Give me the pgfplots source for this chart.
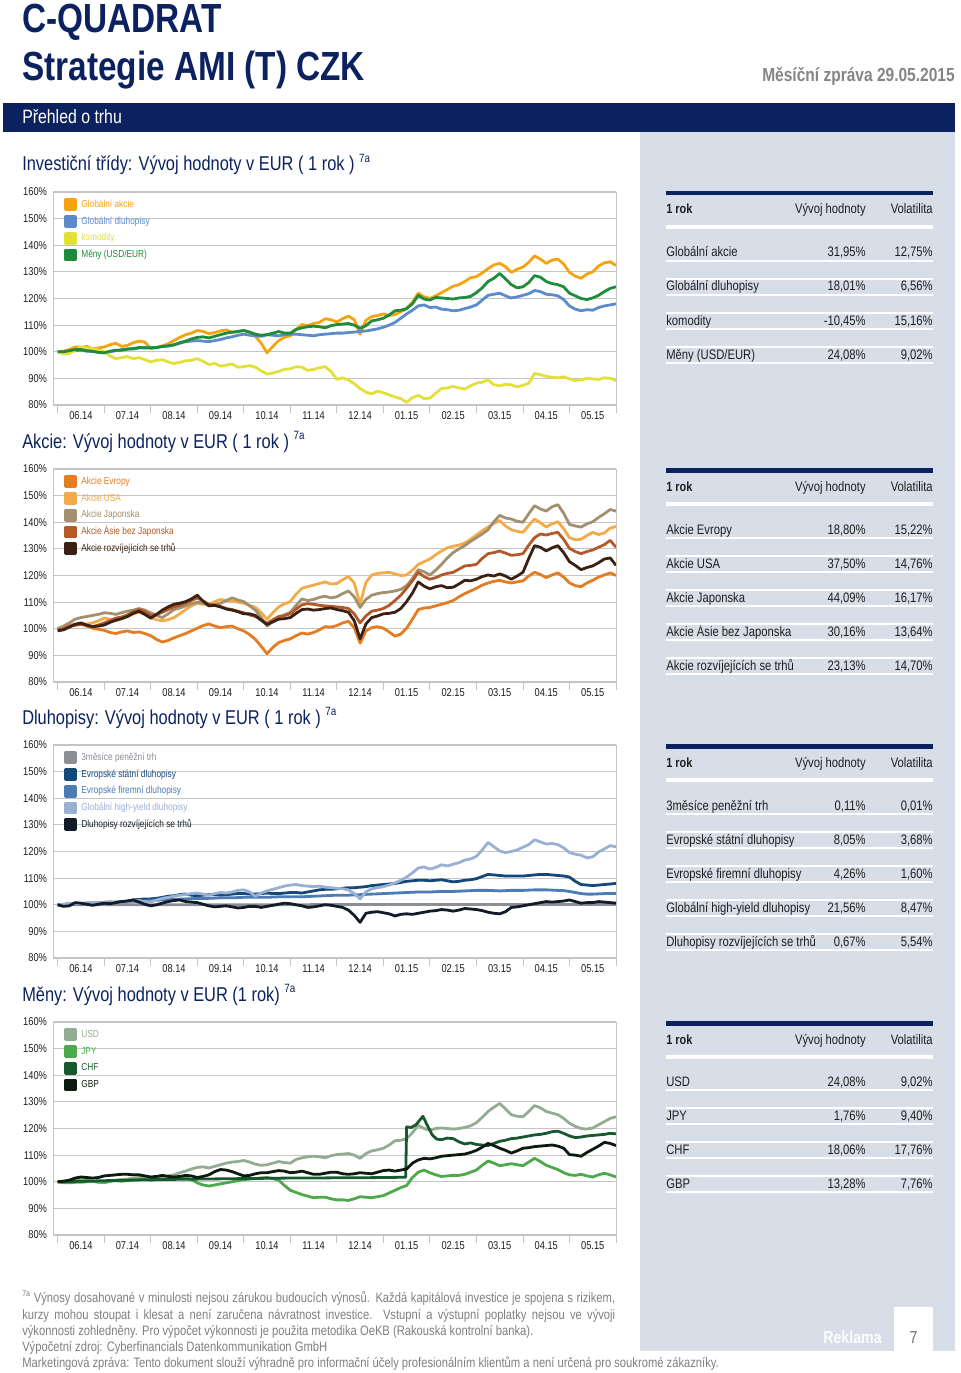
\documentclass[border=0pt]{standalone}
\usepackage{fontspec}
\setmainfont{Liberation Sans}[FakeStretch=0.82]
\usepackage{pgfplots}
\pgfplotsset{compat=1.18}
\usepackage{pgfplotstable}

\definecolor{navy}{HTML}{0C2260}
\definecolor{panel}{HTML}{D8DEE8}
\definecolor{gridc}{HTML}{C4C4C4}
\definecolor{txt}{HTML}{1E1E1E}
% investicni tridy
\definecolor{cGA}{HTML}{F5A30F}
\definecolor{cGD}{HTML}{5B8BCB}
\definecolor{cKO}{HTML}{E4E03A}
\definecolor{cME}{HTML}{1E8C3A}
% akcie
\definecolor{cEV}{HTML}{E47C22}
\definecolor{cUS}{HTML}{F3AA48}
\definecolor{cJA}{HTML}{A3906F}
\definecolor{cAS}{HTML}{B4592A}
\definecolor{cRT}{HTML}{3A2112}
% dluhopisy
\definecolor{cMM}{HTML}{8C8E96}
\definecolor{cES}{HTML}{134878}
\definecolor{cEF}{HTML}{4D7BB5}
\definecolor{cHY}{HTML}{9AB0D2}
\definecolor{cDR}{HTML}{121C28}
% meny
\definecolor{cUSD}{HTML}{93AD92}
\definecolor{cJPY}{HTML}{4DAA4A}
\definecolor{cCHF}{HTML}{17592F}
\definecolor{cGBP}{HTML}{0D1A10}

\newcommand\fs[2]{\fontsize{#1}{#2}\selectfont}

\pgfplotsset{
  qax/.style={
    anchor=south west, scale only axis, width=422.25pt, height=159.75pt,
    xmin=-0.1, xmax=12, ymin=80, ymax=160,
    axis line style={draw=gridc, line width=0.6pt},
    ytick={80,90,...,160},
    yticklabels={80\%,90\%,100\%,110\%,120\%,130\%,140\%,150\%,160\%},
    ymajorgrids, grid style={draw=gridc, line width=0.8pt},
    xtick={0,...,12},
    xticklabels={06.14,07.14,08.14,09.14,10.14,11.14,12.14,01.15,02.15,03.15,04.15,05.15},
    x tick label as interval,
    xtick pos=left, tick align=outside, major tick length=6pt,
    xtick style={draw=gridc, line width=0.6pt},
    ytick style={draw=none},
    tick label style={font=\fs{8.5}{10}, text=txt},
    yticklabel style={xshift=5pt},
    xticklabel style={yshift=4.5pt},
    /pgf/number format/assume math mode=true,
    legend cell align=left,
    legend style={at={(0,1)}, anchor=north west, xshift=8.25pt, yshift=-4.5pt,
      draw=none, fill=none, inner sep=0pt, row sep=3pt, column sep=3.2pt,
      font=\fs{7.6}{9}, nodes={inner sep=0pt, text height=6.5pt, text depth=2.5pt}},
    legend image code/.code={\fill (0pt,-3.75pt) rectangle (7.5pt,3.75pt);},
    every axis plot/.append style={line width=2.1pt, line join=round},
  }
}

\pgfplotstableread{
x      ga     gd     kom    men
0      100    100    100    100
0.125  100.2  99.8   99.2   100.0
0.25   100.8  100.2  99.4   100.4
0.375  101.8  100.4  100.6  100.8
0.5    101.6  100.6  101.8  100.8
0.625  102.0  100.2  101.4  100.4
0.75   101.0  100.1  101.2  100.2
0.875  101.4  99.8   100.6  99.8
1.0    101.8  99.6   100.1  99.6
1.125  102.6  100.0  98.4   100.2
1.25   103.2  100.4  97.4   100.6
1.375  102.0  100.8  97.8   100.6
1.5    102.4  101.0  98.2   101.0
1.625  103.4  101.0  97.4   101.2
1.75   104.0  101.4  97.8   101.6
1.875  103.6  101.6  97.0   101.4
2.0    101.2  101.6  96.2   101.4
2.125  101.6  101.6  96.8   101.6
2.25   102.2  102.0  97.0   102.0
2.375  103.0  102.2  96.2   102.2
2.5    104.2  102.6  95.6   102.6
2.625  105.4  103.2  96.0   103.4
2.75   106.4  103.8  96.6   104.0
2.875  107.0  104.0  96.8   104.8
3.0    108.0  104.2  97.4   105.4
3.125  107.6  104.0  96.4   105.6
3.25   106.8  103.8  95.2   105.2
3.375  107.2  104.2  95.6   105.8
3.5    107.8  104.6  94.6   106.4
3.625  108.2  105.2  95.0   107.0
3.75   107.2  105.6  95.4   107.4
3.875  107.6  106.2  94.2   107.6
4.0    108.0  106.6  94.4   108.0
4.125  107.2  106.2  94.8   107.4
4.25   105.8  106.0  94.2   106.6
4.375  103.2  105.8  92.8   106.2
4.5    99.6   106.4  91.6   106.4
4.625  102.0  106.2  92.0   107.0
4.75   104.2  106.0  92.6   107.6
4.875  105.4  106.4  93.4   107.0
5.0    106.0  106.6  93.6   107.0
5.125  108.4  106.6  94.4   108.4
5.25   110.2  106.4  94.2   109.0
5.375  109.8  106.2  93.0   109.4
5.5    110.6  106.0  93.4   109.6
5.625  111.0  106.4  94.0   109.4
5.75   112.4  106.6  94.4   109.0
5.875  112.0  106.8  92.6   109.8
6.0    111.2  107.0  89.6   110.2
6.125  112.4  107.0  90.2   110.4
6.25   113.4  107.2  89.4   110.6
6.375  112.0  107.4  88.0   110.0
6.5    106.6  107.6  86.2   108.8
6.625  111.8  107.8  84.8   109.8
6.75   113.2  108.2  84.2   111.6
6.875  113.6  108.6  85.2   112.0
7.0    114.2  109.2  84.6   112.6
7.125  113.6  110.0  83.8   113.8
7.25   114.0  111.0  83.0   115.4
7.375  115.0  112.6  82.4   115.6
7.5    116.2  114.2  81.0   116.2
7.625  118.6  115.6  82.8   118.0
7.75   122.0  117.2  83.6   121.2
7.875  120.6  117.6  82.4   119.8
8.0    120.0  116.6  82.6   119.4
8.125  121.0  116.8  84.4   120.4
8.25   122.2  116.0  86.2   120.2
8.375  123.4  115.8  86.4   120.0
8.5    124.6  115.4  87.0   119.8
8.625  125.2  115.6  86.4   120.2
8.75   126.4  116.2  86.0   120.4
8.875  127.8  116.8  87.2   120.8
9.0    128.2  117.6  88.2   122.2
9.125  129.6  119.4  88.6   124.0
9.25   131.2  121.2  89.4   126.4
9.375  132.6  121.6  87.6   127.6
9.5    133.2  122.0  87.2   129.4
9.625  132.0  121.0  87.8   127.4
9.75   129.8  120.2  87.6   125.2
9.875  131.0  120.6  86.8   124.0
10.0   131.8  121.2  87.4   124.4
10.125 133.6  121.8  88.2   126.0
10.25  136.0  123.0  91.8   128.6
10.375 134.8  122.6  91.4   128.0
10.5   133.2  121.6  90.8   126.4
10.625 134.4  121.4  90.4   125.6
10.75  134.8  121.0  90.2   125.2
10.875 133.0  119.6  90.6   124.4
11.0   129.8  117.2  89.8   122.0
11.125 128.4  116.0  89.2   121.0
11.25  127.6  115.4  89.4   120.0
11.375 129.2  115.8  90.0   119.6
11.5   130.0  115.6  89.8   120.2
11.625 132.2  116.6  89.6   121.2
11.75  133.4  117.2  90.2   122.6
11.875 133.8  117.6  90.0   123.8
12.0   132.4  118.0  89.2   124.4
}\tA

\pgfplotstableread{
x      ev     usa    jap    asie   rozv
0      99.5   100    100    99.5   99.2
0.125  100.2  100.4  101.0  100.0  99.6
0.25   101.2  101    102.2  101    100.6
0.375  101.8  101.4  103.6  101.4  101.6
0.5    102.0  101.6  104.2  101.6  102.2
0.625  101.0  101.8  104.6  101.2  101.4
0.75   100.2  102.2  105.0  100.8  100.8
0.875  99.8   103.0  105.4  101.4  101.0
1.0    99.4   104.0  106.0  102.2  101.4
1.125  98.6   103.6  105.8  103.0  102.4
1.25   98.2   103.0  105.4  104.0  103.2
1.375  98.8   103.8  106.0  104.4  103.8
1.5    99.2   104.6  106.6  105.2  104.6
1.625  98.6   105.6  107.0  106.4  105.8
1.75   98.8   106.2  107.6  107.2  106.6
1.875  98.2   105.4  107.0  106.4  105.4
2.0    97.4   104.2  106.0  105.0  104.0
2.125  96.0   103.4  105.0  105.4  105.4
2.25   95.0   103.0  104.2  106.2  107.0
2.375  95.6   103.4  105.6  107.2  108.2
2.5    96.6   104.2  107.2  108.2  109.2
2.625  97.4   105.6  107.8  108.8  109.6
2.75   98.2   107.2  108.6  109.6  110.2
2.875  99.2   108.6  109.4  110.6  111.2
3.0    100.2  109.6  110.0  111.6  112.6
3.125  101.2  109.2  109.6  110.4  110.4
3.25   101.8  109.0  109.2  109.2  108.6
3.375  101.0  110.2  109.0  108.8  108.8
3.5    100.4  111.0  109.6  108.4  108.2
3.625  100.8  110.6  110.6  107.6  107.4
3.75   101.0  110.4  111.6  107.2  107.0
3.875  100.0  110.0  110.8  106.6  106.4
4.0    99.2   109.6  110.2  106.0  105.6
4.125  97.8   108.8  108.6  105.2  105.6
4.25   96.0   108.0  107.0  104.6  105.0
4.375  93.4   106.0  104.2  103.4  103.2
4.5    90.6   103.6  101.0  102.0  101.6
4.625  93.0   106.0  102.8  103.4  102.6
4.75   94.8   108.2  104.2  104.6  103.6
4.875  95.6   109.4  105.2  105.0  103.8
5.0    96.2   110.2  106.2  105.6  104.2
5.125  97.4   113.0  108.8  107.4  105.8
5.25   98.4   115.2  111.2  109.0  107.2
5.375  98.0   115.8  110.6  109.4  107.4
5.5    98.6   116.4  111.0  109.2  107.0
5.625  99.6   117.0  111.8  108.8  107.2
5.75   100.8  117.6  112.2  108.6  107.6
5.875  100.6  116.8  111.6  108.4  107.8
6.0    101.2  117.0  112.0  108.2  107.2
6.125  102.2  118.4  113.2  108.0  106.8
6.25   102.8  119.6  114.2  107.6  106.2
6.375  100.4  117.2  112.0  105.6  103.0
6.5    94.6   109.2  108.0  102.2  96.2
6.625  99.2   117.4  111.0  104.8  101.8
6.75   100.4  120.2  112.6  106.6  104.2
6.875  100.8  120.8  113.2  107.0  104.8
7.0    100.2  121.0  113.6  107.6  105.6
7.125  98.8   121.2  113.8  108.8  105.8
7.25   97.2   120.6  114.2  110.6  106.2
7.375  98.0   120.0  114.8  112.6  107.6
7.5    100.2  120.2  116.2  115.2  110.2
7.625  103.6  122.0  118.8  118.0  113.4
7.75   107.2  124.2  122.2  121.2  117.6
7.875  107.8  125.2  121.4  119.6  116.0
8.0    108.0  126.2  120.2  118.6  115.0
8.125  108.6  127.8  122.0  119.2  115.8
8.25   109.2  129.2  124.2  120.2  116.2
8.375  109.8  130.4  126.6  120.8  115.4
8.5    110.6  131.0  128.6  121.2  115.6
8.625  112.0  131.4  130.0  122.4  116.8
8.75   113.2  132.2  131.2  123.6  118.2
8.875  114.2  133.6  132.8  123.8  118.0
9.0    115.2  135.2  134.2  124.2  118.6
9.125  116.4  136.8  135.6  126.4  119.6
9.25   117.2  138.2  137.2  128.2  120.2
9.375  117.8  139.6  140.2  128.6  119.8
9.5    118.2  140.6  142.6  129.2  120.6
9.625  117.6  138.6  141.6  128.4  119.8
9.75   117.2  137.2  141.2  127.6  118.6
9.875  117.6  136.6  140.4  127.8  119.8
10.0   118.0  136.2  140.0  128.2  121.2
10.125 119.8  138.8  143.2  131.4  126.4
10.25  121.2  141.2  146.2  134.2  131.2
10.375 120.4  139.8  145.0  135.6  130.6
10.5   119.2  138.2  144.2  135.2  129.2
10.625 120.2  139.4  145.8  135.8  130.4
10.75  121.0  140.2  146.6  136.2  131.2
10.875 119.4  137.6  143.4  133.6  128.6
11.0   117.2  134.2  139.2  130.2  125.2
11.125 116.2  133.4  138.6  129.0  123.8
11.25  115.8  133.6  138.2  128.2  122.2
11.375 117.2  135.0  139.4  129.0  123.0
11.5   118.2  136.2  140.2  129.6  123.6
11.625 119.4  135.4  141.8  130.6  124.8
11.75  120.2  136.0  143.2  131.6  126.2
11.875 121.0  137.8  144.8  133.2  126.6
12.0   120.0  138.4  144.2  130.6  123.8
}\tB

\pgfplotstableread{
x      mm     est    efir   hy     rozv
0      100    100    100    100    100
0.125  100    100.1  100.0  100.2  99.4
0.25   100    100.2  100.1  100.6  99.6
0.375  100    100.3  100.2  100.2  100.8
0.5    100    100.4  100.2  100.4  100.6
0.625  100    100.5  100.3  100.8  100.2
0.75   100    100.6  100.4  100.8  99.8
0.875  100    100.7  100.5  100.6  100.2
1.0    100    100.8  100.6  101.0  100.6
1.125  100    100.9  100.7  101.2  100.4
1.25   100    101.0  100.8  100.8  100.8
1.375  100    101.2  100.9  101.0  101.2
1.5    100    101.4  101.0  101.2  101.4
1.625  100    101.8  101.1  101.4  101.8
1.75   100    102.0  101.2  101.6  101.0
1.875  100    102.2  101.4  101.2  100.2
2.0    100    102.2  101.6  101.0  99.6
2.125  100    102.4  101.7  101.8  100.0
2.25   100    102.8  101.8  102.4  100.6
2.375  100    103.2  101.9  102.8  101.2
2.5    100    103.4  102.0  103.2  101.6
2.625  100    103.8  102.1  103.6  101.8
2.75   100    104.0  102.2  103.8  101.2
2.875  100    103.6  102.3  104.2  101.0
3.0    100    103.4  102.4  104.4  100.8
3.125  100    103.6  102.4  104.0  100.2
3.25   100    103.8  102.4  103.6  99.6
3.375  100    103.8  102.5  104.2  99.2
3.5    100    103.6  102.6  104.6  99.4
3.625  100    103.8  102.6  104.4  99.6
3.75   100    104.0  102.6  104.8  99.2
3.875  100    104.2  102.7  105.4  98.8
4.0    100    104.2  102.8  105.6  99.0
4.125  100    104.0  102.8  104.8  99.4
4.25   100    104.0  102.8  103.2  99.4
4.375  100    104.2  102.8  104.4  99.0
4.5    100    104.4  102.8  105.2  99.4
4.625  100    104.2  102.9  105.8  99.8
4.75   100    104.2  103.0  106.4  100.2
4.875  100    104.4  103.0  107.0  100.6
5.0    100    104.6  103.0  107.4  100.4
5.125  100    104.6  103.0  107.6  100.0
5.25   100    104.4  103.0  107.2  99.6
5.375  100    104.8  103.1  107.0  99.0
5.5    100.1  105.2  103.2  106.8  99.2
5.625  100.1  105.6  103.3  107.0  99.6
5.75   100.1  105.8  103.4  106.6  100.0
5.875  100.1  105.8  103.5  106.4  99.8
6.0    100.1  106.0  103.6  106.2  99.4
6.125  100.1  106.2  103.6  106.0  99.0
6.25   100.1  106.4  103.6  105.6  98.0
6.375  100.1  106.4  103.7  104.2  96.0
6.5    100.1  106.6  103.8  102.2  93.4
6.625  100.1  106.8  103.9  104.8  96.8
6.75   100.1  107.2  104.0  106.0  97.2
6.875  100.1  107.4  104.1  106.4  97.4
7.0    100.1  107.6  104.2  106.8  97.0
7.125  100.1  107.8  104.3  107.4  96.6
7.25   100.1  108.0  104.4  108.2  95.8
7.375  100.1  108.4  104.5  109.2  96.4
7.5    100.1  108.8  104.6  110.4  96.6
7.625  100.1  109.0  104.7  112.0  96.4
7.75   100.1  109.2  104.8  113.8  96.8
7.875  100.1  109.2  104.8  114.2  97.2
8.0    100.1  109.0  104.8  113.4  97.6
8.125  100.1  109.2  104.9  114.0  97.8
8.25   100.1  109.4  105.0  115.0  98.2
8.375  100.1  109.0  105.0  114.6  98.0
8.5    100.1  108.6  105.0  115.2  97.6
8.625  100.1  108.8  105.1  115.8  98.0
8.75   100.1  109.2  105.2  116.8  98.6
8.875  100.1  109.4  105.3  117.2  98.4
9.0    100.1  109.8  105.4  118.2  98.2
9.125  100.1  110.6  105.4  120.6  97.8
9.25   100.1  111.4  105.4  123.4  97.2
9.375  100.1  111.2  105.3  121.8  96.8
9.5    100.1  111.0  105.2  120.2  96.6
9.625  100.1  110.8  105.3  119.6  97.4
9.75   100.1  110.8  105.4  120.0  99.0
9.875  100.1  110.8  105.4  120.6  99.2
10.0   100.1  110.8  105.4  121.6  99.6
10.125 100.1  111.0  105.5  122.6  100.0
10.25  100.1  111.2  105.6  124.4  100.4
10.375 100.1  111.4  105.6  123.6  100.8
10.5   100.1  111.4  105.6  122.8  101.2
10.625 100.1  111.2  105.5  123.0  101.0
10.75  100.1  111.0  105.4  122.6  101.2
10.875 100.1  110.8  105.3  121.4  101.4
11.0   100.1  110.4  105.0  119.6  101.8
11.125 100.1  108.8  104.6  119.0  101.2
11.25  100.1  107.6  104.2  118.6  100.6
11.375 100.1  107.4  104.0  117.6  100.8
11.5   100.1  107.2  104.0  118.0  100.8
11.625 100.1  107.4  104.1  119.8  101.2
11.75  100.1  107.6  104.2  121.0  101.0
11.875 100.1  107.8  104.2  122.2  100.8
12.0   100.1  108.0  104.2  121.8  100.6
}\tC

\pgfplotstableread{
x      usd    jpy    gbp
0      100    100    100
0.125  100.2  99.6   100.2
0.25   100.4  99.6   100.6
0.375  100.8  99.8   101.4
0.5    100.8  99.8   101.8
0.625  100.6  100.0  101.6
0.75   100.2  100.2  101.4
0.875  100.0  99.8   101.6
1.0    99.6   99.8   102.2
1.125  100.2  100.2  102.4
1.25   100.6  100.4  102.6
1.375  100.8  100.2  102.8
1.5    101.0  100.4  102.8
1.625  101.4  100.6  102.6
1.75   101.6  100.8  102.6
1.875  101.6  100.8  102.2
2.0    101.4  100.6  101.8
2.125  101.6  100.8  102.0
2.25   102.0  101.0  102.4
2.375  102.2  101.0  102.0
2.5    102.6  101.2  101.8
2.625  103.4  101.4  102.0
2.75   104.0  101.6  102.4
2.875  104.8  100.8  102.2
3.0    105.4  99.6   101.6
3.125  105.6  98.8   102.0
3.25   105.2  98.4   102.6
3.375  105.8  98.8   103.8
3.5    106.4  99.2   104.6
3.625  107.0  99.6   104.4
3.75   107.4  100.0  103.8
3.875  107.6  100.4  103.0
4.0    108.0  100.8  102.2
4.125  107.4  101.0  102.4
4.25   106.6  101.2  103.0
4.375  106.2  101.4  103.4
4.5    106.4  101.6  103.4
4.625  107.0  101.2  103.8
4.75   107.6  100.6  104.2
4.875  107.2  98.6   104.0
5.0    107.0  96.8   103.4
5.125  108.4  96.0   103.6
5.25   109.0  95.2   104.0
5.375  109.4  94.6   103.4
5.5    109.6  94.0   102.8
5.625  109.4  94.2   102.8
5.75   109.0  94.2   103.2
5.875  109.8  93.6   103.6
6.0    110.2  93.2   103.6
6.125  110.4  93.2   103.0
6.25   110.6  93.0   102.8
6.375  110.0  93.6   103.0
6.5    108.8  94.4   103.4
6.625  110.6  94.2   103.2
6.75   111.6  94.0   103.0
6.875  112.0  94.4   103.6
7.0    112.6  94.8   104.2
7.125  113.8  95.8   104.4
7.25   115.4  96.8   104.0
7.375  115.6  97.8   104.4
7.5    116.2  98.6   104.8
7.625  118.4  101.6  107.0
7.75   121.2  103.6  108.2
7.875  120.0  104.4  108.8
8.0    119.4  103.4  108.6
8.125  120.0  102.6  109.0
8.25   120.2  102.0  109.6
8.375  120.0  102.2  109.8
8.5    119.8  102.4  110.0
8.625  120.0  102.4  110.2
8.75   120.4  102.8  110.4
8.875  121.0  103.6  111.0
9.0    122.2  104.4  111.8
9.125  124.2  106.2  113.0
9.25   126.4  107.8  114.4
9.375  128.0  107.0  113.6
9.5    129.4  106.0  112.6
9.625  127.4  106.4  111.8
9.75   125.2  106.8  110.8
9.875  124.6  106.4  111.6
10.0   124.4  106.0  112.6
10.125 126.4  107.4  112.8
10.25  128.6  108.8  113.2
10.375 127.8  107.6  113.4
10.5   126.4  106.2  113.6
10.625 125.8  105.4  113.8
10.75  125.2  104.6  113.4
10.875 123.8  103.4  112.6
11.0   122.0  102.6  110.2
11.125 120.8  102.4  110.0
11.25  120.0  102.8  109.6
11.375 119.8  102.2  111.0
11.5   120.2  101.8  112.2
11.625 121.4  102.6  113.4
11.75  122.6  103.2  114.8
11.875 123.8  102.6  114.4
12.0   124.4  101.8  113.6
}\tD

% tabulka vpravo: #1 horni okraj (px)
\newcommand\thead[1]{%
  \fill[navy] (666,#1) rectangle (933,#1+4.5);
  \node[anchor=base west,font=\bfseries] at (666,#1+23) {1 rok};
  \node[anchor=base east] at (866,#1+23) {Vývoj hodnoty};
  \node[anchor=base east] at (933,#1+23) {Volatilita};
  \fill[white] (666,#1+34) rectangle (933,#1+38);
}
% radek: #1 uaklad (px), #2 nazev, #3 vyvoj, #4 volatilita, #5 linka nahore (1/0)
\newcommand\trow[5]{%
  \node[anchor=base west] at (666,#1) {#2};
  \node[anchor=base east] at (866,#1) {#3};
  \node[anchor=base east] at (933,#1) {#4};
  \fill[white] (666,#1+3) rectangle (933,#1+5);
  \ifnum#5=1 \fill[white] (666,#1-13) rectangle (933,#1-11);\fi
}
\newcommand\supa{\raisebox{0.85ex}{\fs{9}{10}7a}}

\begin{document}
\begin{tikzpicture}
\begin{scope}[x=0.75pt,y=-0.75pt,every node/.style={inner sep=0pt}]
  \path[use as bounding box, fill=white] (0,0) rectangle (960,1373);
  \fill[panel] (640,132) rectangle (955,1351);
  \fill[navy] (3,103) rectangle (955,132);
  \node[anchor=base west, text=navy, font=\fs{30.5}{34}\bfseries] at (22,33) {C-QUADRAT};
  \node[anchor=base west, text=navy, font=\fs{30.5}{34}\bfseries] at (22,81) {Strategie AMI (T) CZK};
  \node[anchor=base east, text=black!48, font=\fs{14.2}{16}\bfseries] at (955,82) {Měsíční zpráva 29.05.2015};
  \node[anchor=base west, text=white, font=\fs{14.5}{16}] at (22,124) {Přehled o trhu};
  \begin{scope}[every node/.append style={text=navy, font=\fs{15}{18}}]
    \node[anchor=base west] at (22,171) {Investiční třídy: Vývoj hodnoty v EUR ( 1 rok ) \supa};
    \node[anchor=base west] at (22,448) {Akcie: Vývoj hodnoty v EUR ( 1 rok ) \supa};
    \node[anchor=base west] at (22,724) {Dluhopisy: Vývoj hodnoty v EUR ( 1 rok ) \supa};
    \node[anchor=base west] at (22,1001) {Měny: Vývoj hodnoty v EUR (1 rok) \supa};
  \end{scope}
  \begin{scope}[every node/.append style={text=txt, font=\fs{10.3}{12}}]
    \thead{191}
    \trow{257}{Globální akcie}{31,95\%}{12,75\%}{0}
    \trow{291}{Globální dluhopisy}{18,01\%}{6,56\%}{1}
    \trow{325}{komodity}{-10,45\%}{15,16\%}{1}
    \trow{359}{Měny (USD/EUR)}{24,08\%}{9,02\%}{1}
    \thead{468}
    \trow{534}{Akcie Evropy}{18,80\%}{15,22\%}{0}
    \trow{568}{Akcie USA}{37,50\%}{14,76\%}{1}
    \trow{602}{Akcie Japonska}{44,09\%}{16,17\%}{1}
    \trow{636}{Akcie Ásie bez Japonska}{30,16\%}{13,64\%}{1}
    \trow{670}{Akcie rozvíjejících se trhů}{23,13\%}{14,70\%}{1}
    \thead{744}
    \trow{810}{3měsíce peněžní trh}{0,11\%}{0,01\%}{0}
    \trow{844}{Evropské státní dluhopisy}{8,05\%}{3,68\%}{1}
    \trow{878}{Evropské firemní dluhopisy}{4,26\%}{1,60\%}{1}
    \trow{912}{Globální high-yield dluhopisy}{21,56\%}{8,47\%}{1}
    \trow{946}{Dluhopisy rozvíjejících se trhů}{0,67\%}{5,54\%}{1}
    \thead{1021}
    \trow{1086}{USD}{24,08\%}{9,02\%}{0}
    \trow{1120}{JPY}{1,76\%}{9,40\%}{1}
    \trow{1154}{CHF}{18,06\%}{17,76\%}{1}
    \trow{1188}{GBP}{13,28\%}{7,76\%}{1}
  \end{scope}
  \begin{scope}[every node/.append style={text=black!50, font=\fs{10.25}{12}, anchor=base west}]
    \node at (22,1302) {\makebox[444.75pt][s]{\raisebox{0.8ex}{\fs{6.5}{7}7a} Výnosy dosahované v minulosti nejsou zárukou budoucích výnosů. Každá kapitálová investice je spojena s rizikem,}};
    \node at (22,1319) {\makebox[444.75pt][s]{kurzy mohou stoupat i klesat a není zaručena návratnost investice. Vstupní a výstupní poplatky nejsou ve vývoji}};
    \node at (22,1335) {výkonnosti zohledněny. Pro výpočet výkonnosti je použita metodika OeKB (Rakouská kontrolní banka).};
    \node at (22,1351) {Výpočetní zdroj: Cyberfinancials Datenkommunikation GmbH};
    \node at (22,1367) {Marketingová zpráva: Tento dokument slouží výhradně pro informační účely profesionálním klientům a není určená pro soukromé zákazníky.};
  \end{scope}
  \fill[white] (894,1307) rectangle (933,1351);
  \node[anchor=base east, text=white!92!panel, font=\fs{13}{15}\bfseries] at (882,1343) {Reklama};
  \node[anchor=base, text=black!55, font=\fs{13}{15}] at (913.5,1343) {7};
\end{scope}

\begin{axis}[qax, at={(39.75pt,-303.75pt)}]
  \addplot[cGA] table[x=x,y=ga]{\tA}; \addlegendentry{\textcolor{cGA}{Globální akcie}}
  \addplot[cGD] table[x=x,y=gd]{\tA}; \addlegendentry{\textcolor{cGD}{Globální dluhopisy}}
  \addplot[cKO] table[x=x,y=kom]{\tA}; \addlegendentry{\textcolor{cKO}{komodity}}
  \addplot[cME] table[x=x,y=men]{\tA}; \addlegendentry{\textcolor{cME}{Měny (USD/EUR)}}
\end{axis}

\begin{axis}[qax, at={(39.75pt,-511.5pt)}]
  \addplot[cEV] table[x=x,y=ev]{\tB}; \addlegendentry{\textcolor{cEV}{Akcie Evropy}}
  \addplot[cUS] table[x=x,y=usa]{\tB}; \addlegendentry{\textcolor{cUS}{Akcie USA}}
  \addplot[cJA] table[x=x,y=jap]{\tB}; \addlegendentry{\textcolor{cJA}{Akcie Japonska}}
  \addplot[cAS] table[x=x,y=asie]{\tB}; \addlegendentry{\textcolor{cAS}{Akcie Ásie bez Japonska}}
  \addplot[cRT] table[x=x,y=rozv]{\tB}; \addlegendentry{\textcolor{cRT}{Akcie rozvíjejících se trhů}}
\end{axis}

\begin{axis}[qax, at={(39.75pt,-718.5pt)}]
  \addplot[cMM] table[x=x,y=mm]{\tC}; \addlegendentry{\textcolor{cMM}{3měsíce peněžní trh}}
  \addplot[cES] table[x=x,y=est]{\tC}; \addlegendentry{\textcolor{cES}{Evropské státní dluhopisy}}
  \addplot[cEF] table[x=x,y=efir]{\tC}; \addlegendentry{\textcolor{cEF}{Evropské firemní dluhopisy}}
  \addplot[cHY] table[x=x,y=hy]{\tC}; \addlegendentry{\textcolor{cHY}{Globální high-yield dluhopisy}}
  \addplot[cDR] table[x=x,y=rozv]{\tC}; \addlegendentry{\textcolor{cDR}{Dluhopisy rozvíjejících se trhů}}
\end{axis}

\begin{axis}[qax, at={(39.75pt,-926.25pt)}]
  \addplot[cUSD] table[x=x,y=usd]{\tD}; \addlegendentry{\textcolor{cUSD}{USD}}
  \addplot[cJPY] table[x=x,y=jpy]{\tD}; \addlegendentry{\textcolor{cJPY}{JPY}}
  \addplot[cCHF] coordinates {(0,100)(0.5,100.2)(1,100.4)(1.5,100.6)(2,100.8)(2.5,100.9)(3,101.0)(3.5,101.1)
    (4,101.2)(4.5,101.3)(5,101.4)(5.5,101.4)(6,101.5)(6.5,101.5)(7,101.6)(7.48,101.7)(7.5,120.6)(7.6,120.4)
    (7.7,121.4)(7.85,124.6)(7.95,121.0)(8.05,117.6)(8.15,116.0)(8.25,115.8)(8.375,116.4)(8.5,116.2)
    (8.625,115.0)(8.75,114.2)(8.875,114.6)(9.0,114.0)(9.125,113.8)(9.25,113.6)(9.375,114.4)(9.5,115.2)
    (9.625,115.6)(9.75,116.2)(9.875,116.4)(10.0,116.8)(10.125,117.2)(10.25,117.6)(10.375,117.8)(10.5,118.2)
    (10.625,118.8)(10.75,119.0)(10.875,118.2)(11.0,117.2)(11.125,116.6)(11.25,116.8)(11.375,117.2)
    (11.5,117.4)(11.625,117.6)(11.75,117.8)(11.875,118.2)(12.0,118.0)}; \addlegendentry{\textcolor{cCHF}{CHF}}
  \addplot[cGBP] table[x=x,y=gbp]{\tD}; \addlegendentry{\textcolor{cGBP}{GBP}}
\end{axis}
\end{tikzpicture}
\end{document}
